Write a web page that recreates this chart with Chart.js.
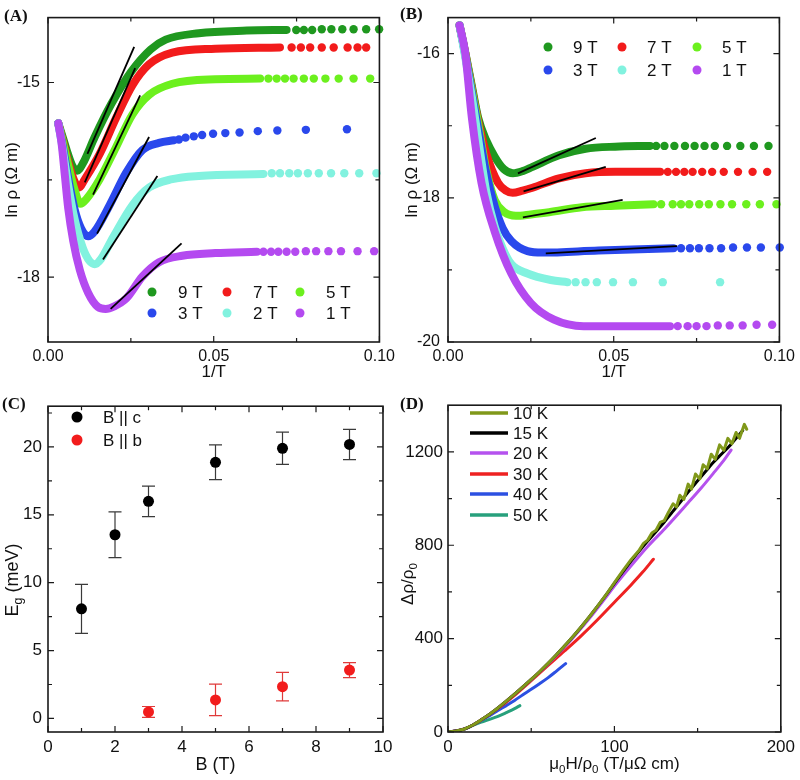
<!DOCTYPE html>
<html>
<head>
<meta charset="utf-8">
<script src="https://cdn.jsdelivr.net/npm/chart.js@4.4.0/dist/chart.umd.min.js"></script>
<style>
  body { margin: 0; background: #fff; }
  #fig { position: relative; width: 800px; height: 780px; }
  #fig canvas { position: absolute; }
</style>
</head>
<body>
<div id="fig">
  <canvas id="cA" width="400" height="390" style="left:0;top:0"></canvas>
  <canvas id="cB" width="400" height="390" style="left:400px;top:0"></canvas>
  <canvas id="cC" width="400" height="390" style="left:0;top:390px"></canvas>
  <canvas id="cD" width="400" height="390" style="left:400px;top:390px"></canvas>
</div>
<script>
// ---- data ----
const fieldLabels = ['9 T', '7 T', '5 T', '3 T', '2 T', '1 T'];

// (A) ln rho vs 1/T, B || c : dense part of each curve, then the sparse low-T points
const a9Band = [[0.0031,-15.63],[0.0045,-15.85],[0.006,-16.1],[0.0075,-16.3],[0.0088,-16.36],[0.0105,-16.25],[0.0141,-15.84],[0.019,-15.34],[0.025,-14.84],[0.031,-14.49],[0.0355,-14.34],[0.0455,-14.24],[0.06,-14.2],[0.072,-14.19]];
const a9Dots = [[0.0749,-14.19],[0.0772,-14.19],[0.0797,-14.19],[0.0826,-14.18],[0.0855,-14.18],[0.0888,-14.18],[0.0922,-14.18],[0.096,-14.18],[0.0999,-14.18]];
const a7Band = [[0.0031,-15.63],[0.0045,-15.9],[0.006,-16.2],[0.0078,-16.5],[0.0094,-16.62],[0.011,-16.5],[0.0156,-16.1],[0.0206,-15.54],[0.0255,-15.04],[0.0305,-14.72],[0.0375,-14.54],[0.0505,-14.48],[0.07,-14.46]];
const a7Dots = [[0.0735,-14.46],[0.0763,-14.46],[0.0791,-14.46],[0.0826,-14.46],[0.0862,-14.46],[0.0904,-14.46],[0.0934,-14.46],[0.096,-14.46]];
const a5Band = [[0.0031,-15.63],[0.0045,-15.92],[0.006,-16.25],[0.008,-16.65],[0.0098,-16.87],[0.0115,-16.8],[0.0156,-16.49],[0.0206,-15.99],[0.0255,-15.49],[0.0305,-15.19],[0.0375,-15.02],[0.0505,-14.95],[0.064,-14.94]];
const a5Dots = [[0.0665,-14.94],[0.069,-14.94],[0.0715,-14.94],[0.0741,-14.94],[0.0772,-14.94],[0.0802,-14.94],[0.0837,-14.94],[0.0877,-14.94],[0.0922,-14.94],[0.0972,-14.94]];
const a3Band = [[0.0031,-15.63],[0.0045,-16.0],[0.006,-16.45],[0.008,-16.95],[0.01,-17.25],[0.0121,-17.37],[0.014,-17.3],[0.0186,-16.89],[0.0236,-16.39],[0.0285,-16.04],[0.0335,-15.93],[0.038,-15.89]];
const a3Dots = [[0.0395,-15.88],[0.0415,-15.85],[0.044,-15.83],[0.0465,-15.81],[0.0498,-15.79],[0.0535,-15.78],[0.0578,-15.77],[0.0633,-15.75],[0.0692,-15.74],[0.0778,-15.73],[0.0902,-15.72]];
const a2Band = [[0.0031,-15.63],[0.0045,-16.05],[0.006,-16.55],[0.008,-17.1],[0.0105,-17.55],[0.0125,-17.75],[0.0141,-17.8],[0.016,-17.72],[0.0196,-17.39],[0.0255,-16.89],[0.0305,-16.62],[0.0375,-16.49],[0.0455,-16.44],[0.065,-16.41]];
const a2Dots = [[0.0675,-16.4],[0.07,-16.4],[0.0728,-16.4],[0.0754,-16.4],[0.0784,-16.4],[0.0817,-16.4],[0.0854,-16.4],[0.0894,-16.4],[0.0939,-16.4],[0.0991,-16.4]];
const a1Band = [[0.0031,-15.63],[0.0041,-15.94],[0.0051,-16.44],[0.0061,-16.94],[0.0076,-17.44],[0.0096,-17.89],[0.0121,-18.24],[0.0151,-18.46],[0.0174,-18.49],[0.02,-18.45],[0.0236,-18.33],[0.0285,-17.99],[0.0335,-17.77],[0.0405,-17.67],[0.0505,-17.63],[0.063,-17.61]];
const a1Dots = [[0.065,-17.61],[0.0673,-17.61],[0.0695,-17.61],[0.072,-17.61],[0.0746,-17.61],[0.0778,-17.6],[0.0809,-17.6],[0.0846,-17.6],[0.0884,-17.6],[0.0934,-17.6],[0.0984,-17.6]];
// activation fits: x1, y1, x2, y2
const aFits = [[0.0119,-16.1,0.026,-14.45],[0.0111,-16.54,0.0263,-14.78],[0.0136,-16.73,0.0278,-15.2],[0.0148,-17.33,0.0305,-15.84],[0.0166,-17.73,0.033,-16.44],[0.0189,-18.49,0.0403,-17.48]];

// (B) ln rho vs 1/T, B || b
const b9Band = [[0.0035,-15.61],[0.0052,-15.98],[0.0072,-16.45],[0.0091,-16.89],[0.0115,-17.2],[0.0141,-17.43],[0.0168,-17.6],[0.0196,-17.66],[0.0225,-17.63],[0.0255,-17.57],[0.0335,-17.41],[0.0415,-17.32],[0.0504,-17.29],[0.061,-17.28]];
const b9Dots = [[0.0628,-17.28],[0.0653,-17.28],[0.0683,-17.28],[0.0715,-17.28],[0.0744,-17.28],[0.0774,-17.28],[0.0805,-17.28],[0.0842,-17.28],[0.0882,-17.28],[0.0923,-17.28],[0.0967,-17.28]];
const b7Band = [[0.0035,-15.61],[0.0052,-15.99],[0.0072,-16.48],[0.0091,-16.93],[0.0115,-17.38],[0.0151,-17.79],[0.0175,-17.9],[0.0195,-17.93],[0.0225,-17.9],[0.0255,-17.86],[0.0335,-17.73],[0.0415,-17.66],[0.0504,-17.64],[0.064,-17.64]];
const b7Dots = [[0.0663,-17.64],[0.0688,-17.64],[0.0713,-17.64],[0.0738,-17.64],[0.0767,-17.64],[0.0797,-17.64],[0.0832,-17.64],[0.0875,-17.64],[0.0919,-17.64],[0.0963,-17.64]];
const b5Band = [[0.0035,-15.61],[0.0052,-16.0],[0.0072,-16.5],[0.0091,-16.97],[0.0115,-17.6],[0.0141,-18.03],[0.017,-18.2],[0.0205,-18.25],[0.025,-18.23],[0.0305,-18.2],[0.0404,-18.13],[0.0504,-18.11],[0.062,-18.09]];
const b5Dots = [[0.0643,-18.09],[0.0678,-18.09],[0.0703,-18.09],[0.0728,-18.09],[0.0758,-18.09],[0.0787,-18.09],[0.0822,-18.09],[0.0857,-18.09],[0.09,-18.09],[0.0941,-18.09],[0.0991,-18.09]];
const b3Band = [[0.0035,-15.61],[0.0052,-16.02],[0.0072,-16.55],[0.009,-17.02],[0.0115,-17.65],[0.0141,-18.12],[0.0165,-18.42],[0.0191,-18.6],[0.024,-18.74],[0.0285,-18.76],[0.0454,-18.73],[0.068,-18.7]];
const b3Dots = [[0.0703,-18.7],[0.073,-18.7],[0.0757,-18.7],[0.0789,-18.7],[0.0824,-18.7],[0.086,-18.69],[0.0902,-18.69],[0.0944,-18.69],[0.1001,-18.69]];
const b2Band = [[0.0035,-15.61],[0.0052,-16.05],[0.0072,-16.6],[0.009,-17.15],[0.0115,-17.9],[0.0141,-18.4],[0.0165,-18.7],[0.0191,-18.92],[0.024,-19.05],[0.031,-19.14],[0.036,-19.17]];
const b2Dots = [[0.0385,-19.17],[0.0415,-19.17],[0.0449,-19.17],[0.0498,-19.17],[0.0558,-19.17],[0.0648,-19.17],[0.0821,-19.17]];
const b1Band = [[0.0035,-15.61],[0.0052,-15.99],[0.0072,-16.89],[0.0101,-17.79],[0.0141,-18.47],[0.0191,-19.05],[0.025,-19.46],[0.032,-19.69],[0.0409,-19.78],[0.0504,-19.78],[0.067,-19.78]];
const b1Dots = [[0.0693,-19.78],[0.0723,-19.78],[0.075,-19.78],[0.078,-19.78],[0.0814,-19.77],[0.085,-19.77],[0.0889,-19.77],[0.0931,-19.76],[0.0978,-19.76]];
const bFits = [[0.0211,-17.66,0.0446,-17.17],[0.0228,-17.91,0.0476,-17.57],[0.0226,-18.27,0.0527,-18.03],[0.0295,-18.77,0.0691,-18.67]];

// (C) gap vs field
const gapLabels = ['B || c', 'B || b'];
const fieldC = [1, 2, 3, 5, 7, 9];
const gapC = [8.07, 13.53, 15.99, 18.87, 19.9, 20.18];
const gapErrC = [1.8, 1.68, 1.12, 1.28, 1.19, 1.12];
const fieldB = [3, 5, 7, 9];
const gapB = [0.48, 1.36, 2.34, 3.56];
const gapErrB = [0.4, 1.16, 1.05, 0.55];

// (D) Kohler plot
const tempLabels = ['10 K', '15 K', '20 K', '30 K', '40 K', '50 K'];
const d10 = [[0,0],[5,4],[10,13],[15,30],[20,52],[25,76],[30,103],[35,132],[40,162],[45,193],[50,225],[55,258],[60,293],[65,330],[70,368],[75,408],[80,450],[85,494],[90,540],[95,588],[100,640],[105,690],[110,738],[115,780],[117.5,808],[120,822],[122.5,852],[125,864],[127.5,898],[130,906],[132.5,942],[135.3,978],[137.3,964],[139.3,1014],[141.7,996],[144.3,1062],[146.3,1040],[148.7,1105],[151.3,1084],[153.3,1145],[155.8,1128],[158.2,1190],[160.6,1168],[163.2,1230],[165.8,1207],[168.2,1258],[170.6,1235],[173.1,1283],[175.2,1258],[178.1,1318],[179.5,1297]];
const d15 = [[0,0],[5,4],[10,13],[15,30],[20,52],[25,76],[30,103],[35,132],[40,162],[45,193],[50,225],[55,258],[60,293],[65,330],[70,368],[75,408],[80,450],[85,494],[90,540],[95,587],[100,637],[110,732],[120,818],[130,900],[135,944],[140,988],[144.3,1028],[150,1076],[155,1118],[159.2,1153],[165,1195],[170,1232],[177.1,1292]];
const d20 = [[0,0],[5,4],[10,13],[15,30],[20,52],[25,76],[30,103],[35,132],[40,162],[45,193],[50,224],[55,257],[60,291],[65,327],[70,364],[75,403],[80,444],[85,487],[90,532],[95,578],[100,625],[110,712],[120,795],[130.4,872],[144.3,982],[152,1044],[159.2,1106],[165,1157],[170.1,1208]];
const d30 = [[0,0],[5,4],[10,13],[15,30],[20,52],[25,75],[30,100],[40,157],[50,220],[60,284],[70,347],[80,412],[90,482],[100,556],[110,630],[117,685],[123.4,740]];
const d40 = [[0,0],[5,4],[10,13],[15,30],[20,50],[25,70],[30,92],[35,113],[40,135],[45,160],[50,183],[55,207],[60,232],[65,260],[70.7,293]];
const d50 = [[0,0],[5,4],[10,13],[15,28],[20,42],[25,54],[30,67],[35,83],[40,100],[43.2,113]];

// tick positions
const tickX_AB = [0, 0.05, 0.1], minorX_AB = [0.025, 0.075];
const tickY_A = [-18, -15], minorY_A = [-16.5];
const tickY_B = [-20, -18, -16], minorY_B = [-19, -17];
const tickX_C = [0, 2, 4, 6, 8, 10], minorX_C = [1, 3, 5, 7, 9];
const tickY_C = [0, 5, 10, 15, 20], minorY_C = [2.5, 7.5, 12.5, 17.5, 22.5];
const tickX_D = [0, 100, 200], minorX_D = [50, 150];
const tickY_D = [0, 400, 800, 1200], minorY_D = [200, 600, 1000];

// ---- styling ----
const fieldColors = ['#1f981f', '#f21b1b', '#6cf01e', '#2a48ec', '#82f2df', '#b44af0'];
const tempColors = ['#80981a', '#000000', '#b552ee', '#ee2222', '#2c50e2', '#27a07c'];
const SANS = '"Liberation Sans", Arial, sans-serif';
Chart.defaults.font.family = SANS;
Chart.defaults.color = '#111';

const toXY = arr => arr.map(p => ({ x: p[0], y: p[1] }));

function curveSets(bands, dots, fits) {
  const sets = [];
  fits.forEach(f => sets.push({
    data: [{ x: f[0], y: f[1] }, { x: f[2], y: f[3] }],
    borderColor: '#000', borderWidth: 1.8, pointRadius: 0, order: 0
  }));
  bands.forEach((b, i) => {
    sets.push({
      data: toXY(b), borderColor: fieldColors[i], borderWidth: 8, pointRadius: 0,
      cubicInterpolationMode: 'monotone', borderCapStyle: 'round', borderJoinStyle: 'round',
      order: 10 - i
    });
    sets.push({
      data: toXY(dots[i]), showLine: false, pointRadius: 4.2, pointBorderWidth: 0,
      pointBackgroundColor: fieldColors[i], borderColor: fieldColors[i], clip: 6, order: 10 - i
    });
  });
  return sets;
}

function scales(xr, yr, xt, yt, xfmt, tickSize, yPad) {
  const tk = { font: { size: tickSize }, color: '#111', autoSkip: false, maxRotation: 0 };
  const grid = { display: false, drawTicks: false };
  return {
    x: {
      type: 'linear', min: xr[0], max: xr[1], grid, border: { display: false },
      afterBuildTicks: s => { s.ticks = xt.map(v => ({ value: v })); },
      afterFit: s => { s.height = 48; },
      ticks: Object.assign({ padding: 5, callback: xfmt || (v => String(v)) }, tk)
    },
    y: {
      type: 'linear', min: yr[0], max: yr[1], grid, border: { display: false },
      afterBuildTicks: s => { s.ticks = yt.map(v => ({ value: v })); },
      afterFit: s => { s.width = 48; },
      ticks: Object.assign({ padding: yPad, callback: v => String(v) }, tk)
    }
  };
}

function drawRich(ctx, segs, cx, cy, size, rotate) {
  ctx.save();
  ctx.translate(cx, cy);
  if (rotate) ctx.rotate(-Math.PI / 2);
  const fontOf = s => (s.sub ? size * 0.68 : size) + 'px ' + SANS;
  let w = 0;
  segs.forEach(s => { ctx.font = fontOf(s); w += ctx.measureText(s.t).width; });
  let x = -w / 2;
  ctx.textAlign = 'left';
  ctx.textBaseline = 'middle';
  ctx.fillStyle = '#111';
  segs.forEach(s => {
    ctx.font = fontOf(s);
    ctx.fillText(s.t, x, s.sub ? size * 0.32 : 0);
    x += ctx.measureText(s.t).width;
  });
  ctx.restore();
}

function decoPlugin(d) {
  return {
    id: 'deco',
    beforeDatasetsDraw(chart) {
      if (!d.errors) return;
      const { ctx } = chart;
      const ys = chart.scales.y;
      ctx.save();
      d.errors.forEach(e => {
        const meta = chart.getDatasetMeta(e.set);
        const vals = chart.data.datasets[e.set].data;
        ctx.strokeStyle = e.color;
        ctx.lineWidth = 1.2;
        meta.data.forEach((pt, j) => {
          const top = ys.getPixelForValue(vals[j].y + e.err[j]);
          const bot = ys.getPixelForValue(vals[j].y - e.err[j]);
          ctx.beginPath();
          ctx.moveTo(pt.x, top); ctx.lineTo(pt.x, bot);
          ctx.moveTo(pt.x - 6.5, top); ctx.lineTo(pt.x + 6.5, top);
          ctx.moveTo(pt.x - 6.5, bot); ctx.lineTo(pt.x + 6.5, bot);
          ctx.stroke();
        });
      });
      ctx.restore();
    },
    afterDraw(chart) {
      const { ctx, chartArea: a } = chart;
      const xs = chart.scales.x, ys = chart.scales.y;
      ctx.save();
      // inward ticks on all four sides
      ctx.strokeStyle = '#1a1a1a';
      ctx.lineWidth = 1.2;
      const marks = (vals, len, horiz) => vals.forEach(v => {
        ctx.beginPath();
        if (horiz) {
          const p = xs.getPixelForValue(v);
          ctx.moveTo(p, a.bottom); ctx.lineTo(p, a.bottom - len);
          ctx.moveTo(p, a.top); ctx.lineTo(p, a.top + len);
        } else {
          const p = ys.getPixelForValue(v);
          ctx.moveTo(a.left, p); ctx.lineTo(a.left + len, p);
          ctx.moveTo(a.right, p); ctx.lineTo(a.right - len, p);
        }
        ctx.stroke();
      });
      marks(d.xt, 6, true); marks(d.xm, 4, true);
      marks(d.yt, 6, false); marks(d.ym, 4, false);
      ctx.lineWidth = 1.6;
      ctx.strokeRect(a.left, a.top, a.right - a.left, a.bottom - a.top);

      // legend
      const lg = d.legend;
      ctx.textBaseline = 'middle';
      ctx.textAlign = 'left';
      ctx.font = lg.size + 'px ' + SANS;
      lg.labels.forEach((label, i) => {
        const cx = lg.cols[i % lg.cols.length];
        const cy = lg.rows[Math.floor(i / lg.cols.length)];
        ctx.fillStyle = lg.colors[i];
        ctx.strokeStyle = lg.colors[i];
        if (lg.line) {
          ctx.lineWidth = 3.5;
          ctx.beginPath(); ctx.moveTo(cx, cy); ctx.lineTo(cx + lg.line, cy); ctx.stroke();
        } else {
          ctx.beginPath(); ctx.arc(cx, cy, lg.r, 0, Math.PI * 2); ctx.fill();
        }
        ctx.fillStyle = '#111';
        ctx.fillText(label, cx + lg.dx, cy + 1);
      });

      // axis titles and panel letter
      drawRich(ctx, d.xTitle, (a.left + a.right) / 2, d.xTitleY, d.titleSize, false);
      drawRich(ctx, d.yTitle, d.yTitleX || 12, d.yTitleY || (a.top + a.bottom) / 2, d.titleSize, true);
      ctx.fillStyle = '#111';
      ctx.font = 'bold 17px "Liberation Serif", "Times New Roman", serif';
      ctx.textAlign = 'left';
      ctx.fillText(d.letter, d.letterX, d.letterY);
      ctx.restore();
    }
  };
}

function makeChart(id, datasets, sc, deco) {
  return new Chart(document.getElementById(id), {
    type: 'line',
    data: { datasets },
    options: {
      responsive: false, animation: false, events: [],
      layout: { padding: { left: 0, right: 17, top: 7, bottom: 0 } },
      plugins: { legend: { display: false }, tooltip: { enabled: false } },
      scales: sc
    },
    plugins: [decoPlugin(deco)]
  });
}

const fmt2 = v => Number(v).toFixed(2);
const rhoTitle = [{ t: 'ln \u03c1 (\u03a9 m)' }];

// (A)
makeChart('cA',
  curveSets([a9Band, a7Band, a5Band, a3Band, a2Band, a1Band], [a9Dots, a7Dots, a5Dots, a3Dots, a2Dots, a1Dots], aFits),
  scales([0, 0.1], [-19, -14], tickX_AB, tickY_A, fmt2, 16, 8),
  { xt: tickX_AB, xm: minorX_AB, yt: tickY_A, ym: minorY_A,
    legend: { labels: fieldLabels, colors: fieldColors, cols: [152, 227, 300], rows: [292, 313], dx: 26, r: 4.5, size: 17 },
    xTitle: [{ t: '1/T' }], xTitleY: 372, yTitle: rhoTitle, titleSize: 17,
    letter: '(A)', letterX: 4, letterY: 17 });

// (B)
makeChart('cB',
  curveSets([b9Band, b7Band, b5Band, b3Band, b2Band, b1Band], [b9Dots, b7Dots, b5Dots, b3Dots, b2Dots, b1Dots], bFits),
  scales([0, 0.1], [-20, -15.5], tickX_AB, tickY_B, fmt2, 16, 8),
  { xt: tickX_AB, xm: minorX_AB, yt: tickY_B, ym: minorY_B,
    legend: { labels: fieldLabels, colors: fieldColors, cols: [148, 222, 297], rows: [47, 70], dx: 25, r: 4.5, size: 17 },
    xTitle: [{ t: '1/T' }], xTitleY: 372, yTitle: rhoTitle, titleSize: 17,
    letter: '(B)', letterX: 0, letterY: 15 });

// (C)
const gapColors = ['#000000', '#f21c1c'];
makeChart('cC',
  [
    { data: fieldC.map((b, i) => ({ x: b, y: gapC[i] })), showLine: false, pointRadius: 5.5, pointBorderWidth: 0,
      pointBackgroundColor: gapColors[0], borderColor: gapColors[0], clip: 8 },
    { data: fieldB.map((b, i) => ({ x: b, y: gapB[i] })), showLine: false, pointRadius: 5.5, pointBorderWidth: 0,
      pointBackgroundColor: gapColors[1], borderColor: gapColors[1], clip: 8 }
  ],
  scales([0, 10], [-1, 23], tickX_C, tickY_C, null, 17, 6),
  { xt: tickX_C, xm: minorX_C, yt: tickY_C, ym: minorY_C,
    errors: [{ set: 0, err: gapErrC, color: '#3a3a3a' }, { set: 1, err: gapErrB, color: '#e03a3a' }],
    legend: { labels: gapLabels, colors: gapColors, cols: [77], rows: [27, 50], dx: 26, r: 5.5, size: 17 },
    xTitle: [{ t: 'B (T)' }], xTitleY: 375, yTitle: [{ t: 'E' }, { t: 'g', sub: true }, { t: ' (meV)' }],
    yTitleX: 13, yTitleY: 190, titleSize: 18,
    letter: '(C)', letterX: 2, letterY: 15 });

// (D)
const dSets = [d10, d15, d20, d30, d40, d50].map((arr, i) => ({
  data: toXY(arr), borderColor: tempColors[i], borderWidth: 3, pointRadius: 0,
  cubicInterpolationMode: i === 0 ? 'default' : 'monotone',
  borderJoinStyle: 'round', borderCapStyle: 'round', order: i
}));
makeChart('cD', dSets,
  scales([0, 200], [0, 1400], tickX_D, tickY_D, null, 17, 5),
  { xt: tickX_D, xm: minorX_D, yt: tickY_D, ym: minorY_D,
    legend: { labels: tempLabels, colors: tempColors, cols: [70], rows: [23, 43, 63, 84, 104, 125], dx: 43, line: 38, size: 17 },
    xTitle: [{ t: '\u03bc' }, { t: '0', sub: true }, { t: 'H/\u03c1' }, { t: '0', sub: true }, { t: ' (T/\u03bc\u03a9 cm)' }],
    xTitleY: 374,
    yTitle: [{ t: '\u0394\u03c1/\u03c1' }, { t: '0', sub: true }], yTitleX: 8, yTitleY: 194, titleSize: 17,
    letter: '(D)', letterX: 0, letterY: 15 });
</script>
</body>
</html>
